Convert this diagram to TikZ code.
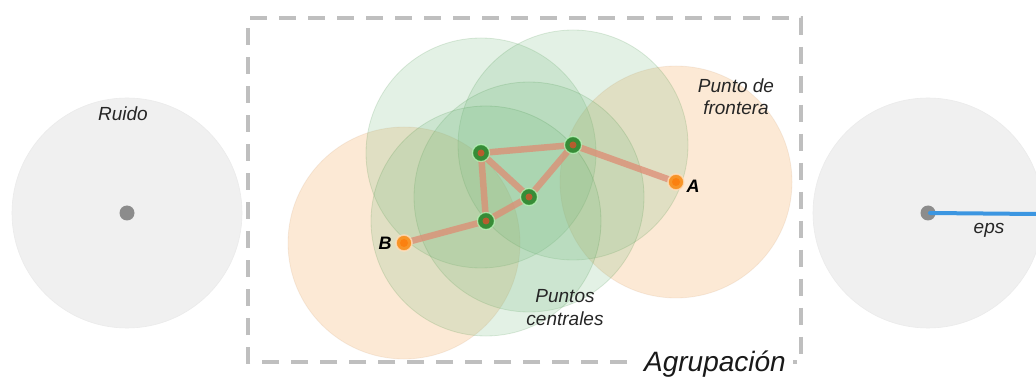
\documentclass[tikz,border=0pt]{standalone}
\usepackage{fontspec}
\setmainfont{Liberation Sans}
\definecolor{linkcol}{RGB}{222,140,115}
\definecolor{coregreen}{RGB}{55,140,55}
\definecolor{corered}{RGB}{205,85,45}
\definecolor{bordorange}{RGB}{247,148,40}
\definecolor{epsblue}{RGB}{60,150,225}
\definecolor{ballgreen}{RGB}{115,185,125}
\definecolor{ballorange}{RGB}{248,200,150}
\begin{document}
\begin{tikzpicture}[x=1pt,y=-1pt,
  lbl/.style={font=\fontsize{19}{22.5}\selectfont\itshape, text=black!85, align=center, inner sep=0pt},
  ptname/.style={font=\fontsize{18}{20}\selectfont\bfseries\itshape, text=black, inner sep=0pt},
  noiseball/.style={fill=black!6, draw=black!8, line width=0.6pt},
  greenball/.style={fill=ballgreen, fill opacity=0.2, draw=green!40!black, draw opacity=0.12, line width=0.8pt},
  orangeball/.style={fill=ballorange, fill opacity=0.4, draw=orange!60!black, draw opacity=0.08, line width=0.8pt},
  corept/.style={circle, fill=coregreen, draw=white!75!green, draw opacity=0.7, line width=1.2pt, minimum size=17pt, inner sep=0pt},
  borderpt/.style={circle, fill=bordorange, draw=orange!25, draw opacity=0.8, line width=1.5pt, minimum size=16pt, inner sep=0pt},
  noisept/.style={circle, fill=black!45, minimum size=15pt, inner sep=0pt},
  link/.style={draw=linkcol, draw opacity=0.75, line width=6.5pt},
  frame/.style={draw=black!25, line width=4.5pt, dash pattern=on 17pt off 12pt}
]
\useasboundingbox (0,0) rectangle (1036,379);
\fill[white] (0,0) rectangle (1036,379);

% neighbourhoods of radius eps
\draw[noiseball] (127,213) circle (115);
\draw[noiseball] (928,213) circle (115);
\draw[orangeball] (404,243) circle (116);
\draw[orangeball] (676,182) circle (116);
\draw[greenball] (481,153) circle (115);
\draw[greenball] (573,145) circle (115);
\draw[greenball] (529,197) circle (115);
\draw[greenball] (486,221) circle (115);

% cluster frame with a gap for its title
\draw[frame] (627,362) -- (248,362) -- (248,18) -- (801,18) -- (801,362) -- (793,362);
\node[font=\fontsize{28}{30}\selectfont\itshape, text=black!90, inner sep=0pt, anchor=base] (title) at (715,371) {Agrupación};

% point positions
\coordinate (pn) at (127,213);
\coordinate (pe) at (928,213);
\coordinate (pB) at (404,243);
\coordinate (pA) at (676,182);
\coordinate (p1) at (481,153);
\coordinate (p2) at (573,145);
\coordinate (p3) at (529,197);
\coordinate (p4) at (486,221);

% density-reachability links
\draw[link] (pB) -- (p4);
\draw[link] (p4) -- (p1);
\draw[link] (p4) -- (p3);
\draw[link] (p1) -- (p3);
\draw[link] (p1) -- (p2);
\draw[link] (p2) -- (p3);
\draw[link] (p2) -- (pA);

% points
\node[noisept] (n) at (pn) {};
\node[noisept] (e) at (pe) {};
\node[borderpt] (B) at (pB) {};
\node[borderpt] (A) at (pA) {};
\node[corept] (c1) at (p1) {};
\node[corept] (c2) at (p2) {};
\node[corept] (c3) at (p3) {};
\node[corept] (c4) at (p4) {};
\foreach \c in {c1,c2,c3,c4} \fill[corered, opacity=0.85] (\c.center) circle (3.5);
\foreach \c in {A,B} \fill[orange!90!red, opacity=0.6] (\c.center) circle (4);

% eps radius
\coordinate (rim) at (1036,214);
\draw[draw=epsblue, line width=4pt, line cap=round] ([xshift=2pt]e.center) -- (rim);

% labels
\node[lbl] (ruido) at (123,114) {Ruido};
\node[lbl, anchor=base] (eps) at (989,234) {eps};
\node[ptname] (lB) at (385,243) {B};
\node[ptname] (lA) at (693,186) {A};
\node[lbl, anchor=base] (front) at (736,115) {Punto de\\frontera};
\node[lbl, anchor=base] (core) at (565,325) {Puntos\\centrales};
\end{tikzpicture}
\end{document}
